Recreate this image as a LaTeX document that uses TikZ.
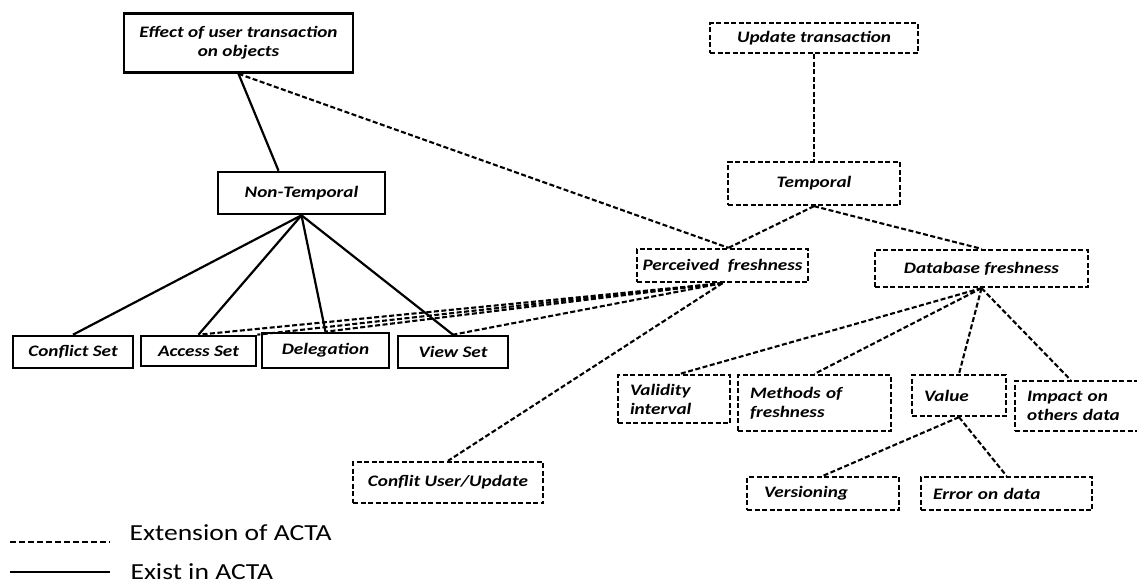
\documentclass[tikz,border=0pt]{standalone}
\usepackage{fontspec}
\setmainfont{Carlito}[FakeStretch=1.2]
\begin{document}
\begin{tikzpicture}[x=1pt, y=-1pt,
	box/.style={draw, line width=2.6pt, inner sep=0pt, align=center, font=\fontsize{16}{19}\selectfont\bfseries\itshape},
	extbox/.style={box, line width=2.3pt, dash pattern=on 5pt off 2.5pt},
	leftbox/.style={extbox, align=left, inner xsep=12pt},
	existline/.style={line width=2.2pt},
	extline/.style={line width=2.1pt, dash pattern=on 5pt off 2.5pt},
	legend/.style={anchor=base west, font=\fontsize{23}{26}\selectfont}]
	\useasboundingbox (0,0) rectangle (1137,584);
	
	\node[box, minimum width=229, minimum height=59] (effect) at (238.5,43) {Effect of user transaction\\on objects};
	\node[extbox, minimum width=208, minimum height=30] (upd) at (814,38) {Update transaction};
	\node[extbox, minimum width=172, minimum height=43] (temp) at (814,183.5) {Temporal};
	\node[box, minimum width=167, minimum height=42] (nont) at (301.5,193) {Non-Temporal};
	\node[extbox, minimum width=171, minimum height=33] (perc) at (722.5,265.5) {Perceived~~freshness};
	\node[extbox, minimum width=213, minimum height=37] (dbf) at (981.5,268.5) {Database freshness};
	
	\node[box, minimum width=120, minimum height=32] (conf) at (73,352) {Conflict Set};
	\node[box, minimum width=115, minimum height=30] (acc) at (198.5,351) {Access Set};
	\node[box, minimum width=127, minimum height=35] (del) at (325.5,350.5) {Delegation};
	\node[box, minimum width=110, minimum height=32] (view) at (453,352) {View Set};
	
	\node[leftbox, text width=88, minimum height=48] (valid) at (674,399) {Validity\\interval};
	\node[leftbox, text width=129, minimum height=56] (meth) at (814.5,403) {Methods~of\\freshness};
	\node[leftbox, text width=70, minimum height=41] (value) at (959,395.5) {Value};
	\node[leftbox, text width=103, minimum height=50] (impact) at (1078.5,406) {Impact~on\\others~data};
	\node[extbox, minimum width=190, minimum height=41] (confl) at (448,482.5) {Conflit User/Update};
	\node[leftbox, inner xsep=17, text width=118, minimum height=33] (vers) at (823,493.5) {Versioning};
	\node[leftbox, text width=147, minimum height=33] (err) at (1006.5,493.5) {Error~on~data};
	
	% upper levels
	\draw[existline] (effect.south) -- ([xshift=-23]nont.north);
	\draw[extline] (effect.south) -- ([xshift=6]perc.north);
	\draw[extline] (upd) -- (temp);
	\draw[extline] (temp.south) -- ([xshift=6]perc.north);
	\draw[extline] (temp.south) -- (dbf.north);
	
	% objects
	\foreach \n in {conf, acc, del, view}
		\draw[existline] (nont.south) -- (\n.north);
	\foreach \n in {acc.north, acc.north east, del.north, view.north}
		\draw[extline] (perc.south) -- (\n);
	\draw[extline] (perc.south) -- (confl.north);
	
	% freshness
	\draw[extline] (dbf.south) -- ([xshift=6]valid.north);
	\foreach \n in {meth, value}
		\draw[extline] (dbf.south) -- (\n.north);
	\draw[extline] (dbf.south) -- ([xshift=-8]impact.north);
	\foreach \n in {vers, err}
		\draw[extline] (value.south) -- (\n.north);
	
	% legend
	\coordinate (ext-a) at (10,542);
	\coordinate (ext-b) at (110,542);
	\coordinate (exi-a) at (10,572);
	\coordinate (exi-b) at (110,572);
	\draw[extline, line width=2.6pt, dash pattern=on 6pt off 3pt] (ext-a) -- (ext-b);
	\draw[existline, line width=2.8pt] (exi-a) -- (exi-b);
	\node[legend] (ext-label) at (126,540) {Extension of ACTA};
	\node[legend] (exi-label) at (127,579) {Exist in ACTA};
\end{tikzpicture}
\end{document}
